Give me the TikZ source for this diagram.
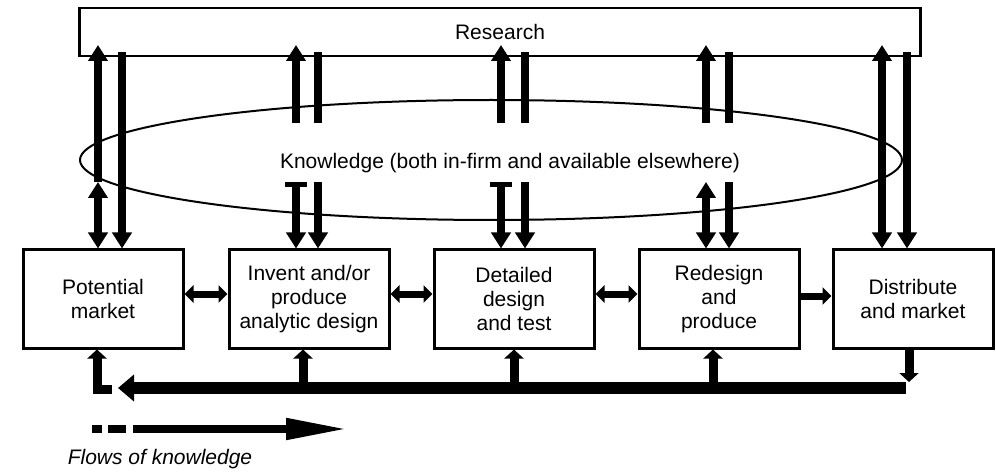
\documentclass[tikz,border=0pt]{standalone}
\usepackage{fontspec}
\setmainfont{Liberation Sans}
\usetikzlibrary{arrows.meta,positioning,calc,shapes.geometric}

\begin{document}
\begin{tikzpicture}[x=1pt, y=-1pt,
  txt/.style={font=\fontsize{21}{24}\selectfont},
  stage/.style={draw, line width=3pt, minimum width=160pt, minimum height=98pt,
                inner sep=0pt, align=center, txt},
  flow/.style={line width=8pt},
  single/.style={flow, -{Triangle[width=19pt,length=16pt]}},
  both/.style={flow, {Triangle[width=19pt,length=16pt]}-{Triangle[width=19pt,length=16pt]}},
  capped/.style={flow, {Rectangle[width=22pt,length=5pt]}-{Triangle[width=19pt,length=16pt]}},
  link/.style={line width=7pt, {Triangle[width=17pt,length=9pt]}-{Triangle[width=17pt,length=9pt]}},
  linkR/.style={line width=7pt, -{Triangle[width=17pt,length=9pt]}},
  feed/.style={line width=9pt, -{Triangle[width=19pt,length=9pt]}},
  back/.style={line width=12pt, -{Triangle[width=26pt,length=16pt]}}
]
\useasboundingbox (0,0) rectangle (996,473);

% research and knowledge
\node[draw, line width=2.5pt, minimum width=841pt, minimum height=48pt, txt] (res) at (500,32) {Research};
\node[draw, ellipse, line width=2pt, minimum width=822pt, minimum height=120pt] (know) at (491,160) {};
\node[txt] (knowtxt) at (510,163) {Knowledge (both in-firm and available elsewhere)};

% chain of stages
\node[stage] (mkt) at (103,299) {Potential\\market};
\node[stage, right=43pt of mkt] (inv) {Invent and/or\\produce\\analytic design};
\node[stage, right=42pt of inv] (det) {Detailed\\design\\and test};
\node[stage, right=42pt of det] (red) {Redesign\\and\\produce};
\node[stage, right=31pt of red] (dist) {Distribute\\and market};

\coordinate (kTop) at (0,123);
\coordinate (kBot) at (0,182);
\coordinate (rTip) at (0,45);
\coordinate (rEnd) at (0,52);

% links to research and knowledge
\draw[both] ($(mkt.north)+(-5,0)$) -- ($(mkt.north |- kBot)+(-5,0)$);
\draw[single] ($(mkt.north |- kBot)$) ++(-5,0) -- ($(mkt.north |- rTip)+(-5,0)$);
\draw[single] ($(mkt.north |- rEnd)+(19,0)$) -- ($(mkt.north)+(19,0)$);

\foreach \n/\l/\r/\st in {inv/-13/9/capped, det/-13/11/capped, red/-13/10/both}{
  \draw[single] ($(\n.north |- kTop)+(\l,0)$) -- ($(\n.north |- rTip)+(\l,0)$);
  \draw[flow] ($(\n.north |- rEnd)+(\r,0)$) -- ($(\n.north |- kTop)+(\r,0)$);
  \draw[\st] ($(\n.north |- kBot)+(\l,0)$) -- ($(\n.north)+(\l,0)$);
  \draw[single] ($(\n.north |- kBot)+(\r,0)$) -- ($(\n.north)+(\r,0)$);
}

\draw[both] ($(dist.north)+(-31,0)$) -- ($(dist.north |- rTip)+(-31,0)$);
\draw[single] ($(dist.north |- rEnd)+(-6,0)$) -- ($(dist.north)+(-6,0)$);

% links along the chain
\draw[link] ([yshift=5pt]mkt.east) -- ([yshift=5pt]inv.west);
\draw[link] ([yshift=5pt]inv.east) -- ([yshift=5pt]det.west);
\draw[link] ([yshift=5pt]det.east) -- ([yshift=5pt]red.west);
\draw[linkR] ([yshift=3pt]red.east) -- ([yshift=3pt]dist.west);

% feedback
\coordinate (fbR) at (906,388);
\coordinate (fbL) at (118,388);
\coordinate (foot) at (112,389);
\draw[back] (fbR) -- (fbL);
\draw[feed] ($(dist.south)+(-4,0)$) -- ($(dist.south |- fbR)+(-4,-6)$);
\foreach \n/\s in {inv/-6, det/0, red/-6}
  \draw[feed] ($(\n.south |- fbR)+(\s,0)$) -- ($(\n.south)+(\s,0)$);
\draw[feed] (foot) -| ($(mkt.south)+(-6,0)$);

% legend
\coordinate (lgA) at (92,429);
\coordinate (lgB) at (133,429);
\coordinate (lgC) at (348,429);
\draw[line width=8pt, dash pattern=on 10pt off 6pt on 18pt off 60pt] (lgA) -- (lgB);
\draw[line width=8pt, -{Triangle[width=20pt,length=62pt]}] (lgB) -- (lgC);
\node[txt, font=\fontsize{21}{24}\selectfont\itshape] (lgtxt) at (160,459) {Flows of knowledge};

\end{tikzpicture}
\end{document}
